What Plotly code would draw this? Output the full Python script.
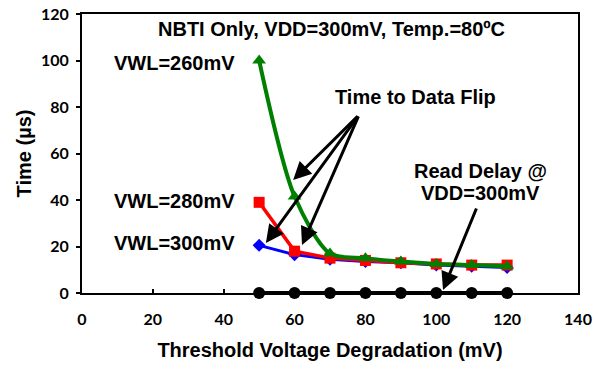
import plotly.graph_objects as go

vth = [50, 60, 70, 80, 90, 100, 110, 120]
t_vwl260 = [100, 41.5, 17, 15, 13.5, 12.5, 12, 11.5]
t_vwl280 = [39, 18, 15, 14, 13, 12.5, 12, 12]
t_vwl300 = [20.5, 16.5, 14.5, 13.5, 13, 12, 11.5, 11]
read_delay = [0, 0, 0, 0, 0, 0, 0, 0]

FONT = "Liberation Sans, Arial, sans-serif"
TICKFONT = "Lato, Liberation Sans, sans-serif"

fig = go.Figure()
fig.add_trace(go.Scatter(x=vth, y=t_vwl300, mode="lines+markers",
                         line=dict(color="#0000FF", width=3),
                         marker=dict(symbol="diamond", size=10, color="#0000FF"),
                         name="VWL=300mV"))
fig.add_trace(go.Scatter(x=vth, y=t_vwl280, mode="lines+markers",
                         line=dict(color="#FF0000", width=3.5),
                         marker=dict(symbol="square", size=11, color="#FF0000"),
                         name="VWL=280mV"))
fig.add_trace(go.Scatter(x=vth, y=t_vwl260, mode="lines+markers",
                         line=dict(color="#008000", width=4, shape="spline", smoothing=0.8),
                         marker=dict(symbol="triangle-up", size=12, color="#008000"),
                         name="VWL=260mV"))
fig.add_trace(go.Scatter(x=vth, y=read_delay, mode="lines+markers",
                         line=dict(color="#000000", width=4),
                         marker=dict(symbol="circle", size=12, color="#000000"),
                         name="Read Delay", cliponaxis=False))

ann_font = dict(family=FONT, size=20, color="black", weight="bold")

annotations = [
    dict(x=70.3, y=113.5, text="NBTI Only, VDD=300mV, Temp.=80ºC", showarrow=False, font=ann_font),
    dict(x=26, y=98.8, text="VWL=260mV", showarrow=False, font=ann_font),
    dict(x=26, y=39.6, text="VWL=280mV", showarrow=False, font=ann_font),
    dict(x=26, y=21.5, text="VWL=300mV", showarrow=False, font=ann_font),
    dict(x=94, y=84.3, text="Time to Data Flip", showarrow=False, font=ann_font),
    dict(x=112.4, y=52.5, text="Read Delay @", showarrow=False, font=ann_font),
    dict(x=112.4, y=43, text="VDD=300mV", showarrow=False, font=ann_font),
]
arrow_specs = [
    (59.6, 48.6, 78.2, 76.6),
    (51.9, 21.5, 78.2, 76.6),
    (62.1, 20.6, 78.2, 76.6),
    (101.9, 1.3, 111.5, 37.0),
]
for (x, y, ax, ay) in arrow_specs:
    annotations.append(dict(x=x, y=y, ax=ax, ay=ay, xref="x", yref="y", axref="x", ayref="y",
                            text="", showarrow=True, arrowhead=2, arrowsize=1.2,
                            arrowwidth=3, arrowcolor="black"))

fig.update_layout(
    width=602, height=367,
    margin=dict(l=82, r=24, t=14, b=74, autoexpand=False),
    paper_bgcolor="white", plot_bgcolor="white",
    showlegend=False,
    annotations=annotations,
    font=dict(family=FONT, color="black"),
)
fig.update_xaxes(range=[0, 140], tickvals=[0, 20, 40, 60, 80, 100, 120, 140],
                 automargin=False,
                 showgrid=False, zeroline=False, showline=True, linecolor="black", linewidth=2,
                 mirror=True, ticks="inside", ticklen=4, tickwidth=2, tickcolor="black",
                 ticklabelstandoff=11,
                 tickfont=dict(family=TICKFONT, size=16, weight="bold"),
                 title=dict(text="Threshold Voltage Degradation (mV)",
                            font=dict(family=FONT, size=20, weight="bold"), standoff=16))
fig.update_yaxes(range=[0, 120], tickvals=[0, 20, 40, 60, 80, 100, 120],
                 automargin=False,
                 showgrid=False, zeroline=False, showline=True, linecolor="black", linewidth=2,
                 mirror=True, ticks="outside", ticklen=4, tickwidth=2, tickcolor="black",
                 ticklabelstandoff=4,
                 tickfont=dict(family=TICKFONT, size=16, weight="bold"),
                 title=dict(text="Time (µs)", font=dict(family=FONT, size=20, weight="bold"),
                            standoff=4))

fig.write_html("out.html")
